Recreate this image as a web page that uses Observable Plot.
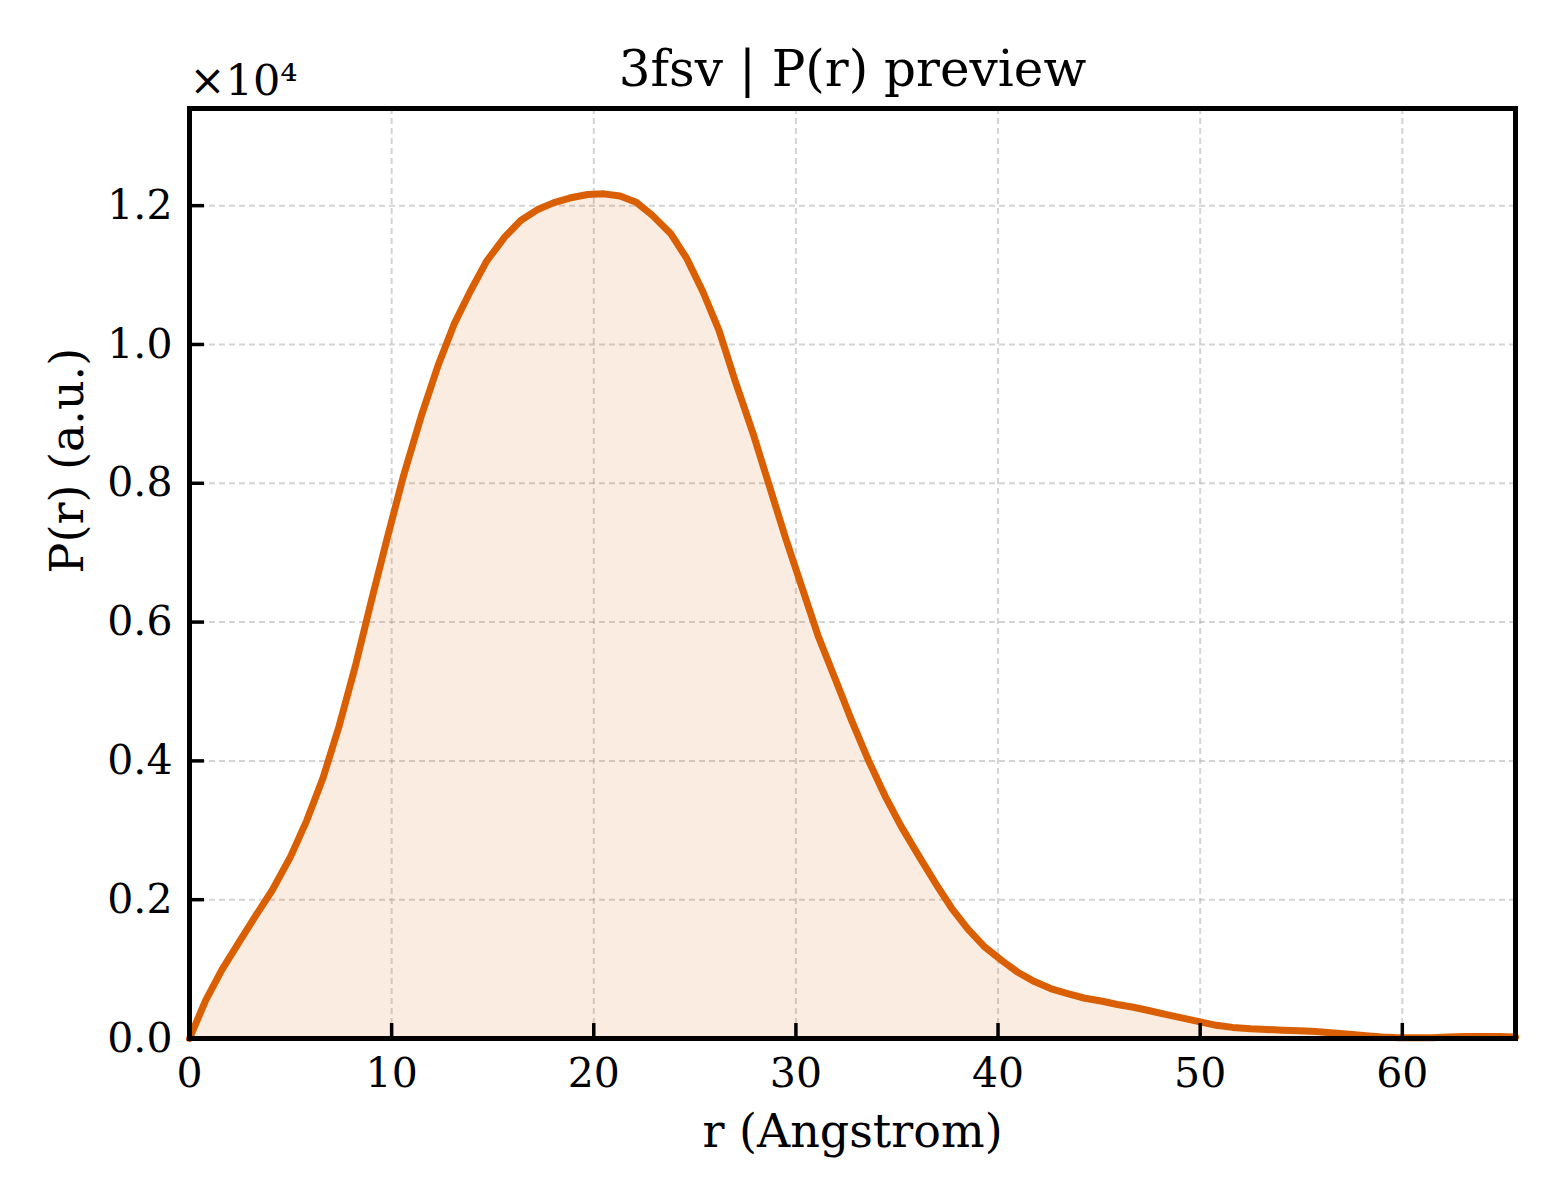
<!DOCTYPE html>
<html>
<head>
<meta charset="utf-8">
<script src="https://cdn.jsdelivr.net/npm/d3@7"></script>
<script src="https://cdn.jsdelivr.net/npm/@observablehq/plot@0.6"></script>
<style>
  html, body { margin: 0; padding: 0; background: #fff; overflow: hidden; }
  #chart svg { display: block; }
</style>
</head>
<body>
<div id="chart"></div>
<script>
const titleText = "3fsv | P(r) preview";
const xLabel = "r (Angstrom)";
const yLabel = "P(r) (a.u.)";
const scaleLabel = "×10⁴";
const xTicks = [0, 10, 20, 30, 40, 50, 60];
const yTicks = [0, 2000, 4000, 6000, 8000, 10000, 12000];

const rValues = [0, 0.8, 1.6, 2.5, 3.3, 4.1, 5.0, 5.8, 6.6, 7.4, 8.2, 9.0, 9.8, 10.6, 11.5, 12.3, 13.1, 13.9, 14.7, 15.6, 16.4, 17.2, 18.0, 18.8, 19.7, 20.5, 21.3, 22.1, 22.9, 23.8, 24.6, 25.4, 26.2, 27.0, 27.9, 28.7, 29.5, 30.3, 31.1, 32.0, 32.8, 33.6, 34.4, 35.2, 36.1, 36.9, 37.7, 38.5, 39.3, 40.2, 41.0, 41.8, 42.6, 43.4, 44.3, 45.1, 45.9, 46.7, 47.5, 48.4, 49.2, 50.0, 50.8, 51.6, 52.5, 53.3, 54.1, 54.9, 55.7, 56.6, 57.4, 58.2, 59.0, 59.8, 60.7, 61.5, 62.3, 63.1, 63.9, 64.8, 65.6];
const pValues = [0, 550, 990, 1410, 1780, 2140, 2620, 3140, 3750, 4500, 5360, 6310, 7230, 8120, 9000, 9700, 10300, 10770, 11200, 11550, 11790, 11940, 12040, 12110, 12160, 12170, 12140, 12050, 11860, 11600, 11240, 10760, 10200, 9470, 8700, 7950, 7200, 6500, 5800, 5140, 4550, 4000, 3500, 3060, 2620, 2240, 1880, 1580, 1330, 1120, 950, 820, 720, 650, 580, 540, 490, 450, 400, 340, 290, 240, 190, 160, 140, 130, 120, 110, 100, 80, 60, 40, 20, 10, 10, 10, 20, 30, 30, 30, 20];

const data = rValues.map((r, i) => ({r, p: pValues[i]}));

const W = 1560, H = 1200;
const mL = 189, mR = 45, mT = 108, mB = 162;
const plotW = W - mL - mR, plotH = H - mT - mB;
const xDomain = [0, 65.6];
const yDomain = [0, 13400];
const orange = "#d95f02";
const tickLen = 15;
const xTickSpan = (xDomain[1] - xDomain[0]) * tickLen / plotW;
const yTickSpan = (yDomain[1] - yDomain[0]) * tickLen / plotH;

const chart = Plot.plot({
  width: W,
  height: H,
  marginLeft: mL,
  marginRight: mR,
  marginTop: mT,
  marginBottom: mB,
  style: {fontFamily: "DejaVu Serif", fontSize: "41px", background: "#fff", color: "#000"},
  x: {domain: xDomain, ticks: xTicks},
  y: {domain: yDomain, ticks: yTicks},
  marks: [
    Plot.gridX(xTicks, {stroke: "#b0b0b0", strokeOpacity: 0.55, strokeWidth: 2, strokeDasharray: "6,4"}),
    Plot.gridY(yTicks, {stroke: "#b0b0b0", strokeOpacity: 0.55, strokeWidth: 2, strokeDasharray: "6,4"}),
    Plot.areaY(data, {x: "r", y: "p", fill: orange, fillOpacity: 0.12}),
    Plot.lineY(data, {x: "r", y: "p", stroke: orange, strokeWidth: 7, strokeLinejoin: "round"}),
    Plot.ruleX(xTicks, {x: d => d, y1: yDomain[0], y2: yDomain[0] + yTickSpan, stroke: "#000", strokeWidth: 3.5}),
    Plot.ruleY(yTicks, {y: d => d, x1: xDomain[0], x2: xDomain[0] + xTickSpan, stroke: "#000", strokeWidth: 3.5}),
    Plot.axisX(xTicks, {tickSize: 0, tickPadding: 19, label: null, fontSize: 41}),
    Plot.axisY(yTicks, {tickSize: 0, tickPadding: 17, label: null, fontSize: 41, tickFormat: d => (d / 1e4).toFixed(1)}),
    Plot.frame({stroke: "#000", strokeWidth: 5}),
    Plot.text([titleText], {frameAnchor: "top", lineAnchor: "middle", dy: -39, fontSize: 50}),
    Plot.text([scaleLabel], {frameAnchor: "top-left", lineAnchor: "middle", textAnchor: "start", dy: -27, dx: 0, fontSize: 43}),
    Plot.text([xLabel], {frameAnchor: "bottom", lineAnchor: "middle", dy: 94, fontSize: 46}),
    Plot.text([yLabel], {frameAnchor: "left", lineAnchor: "middle", dx: -121, rotate: -90, fontSize: 46})
  ]
});
document.getElementById("chart").appendChild(chart);
</script>
</body>
</html>
